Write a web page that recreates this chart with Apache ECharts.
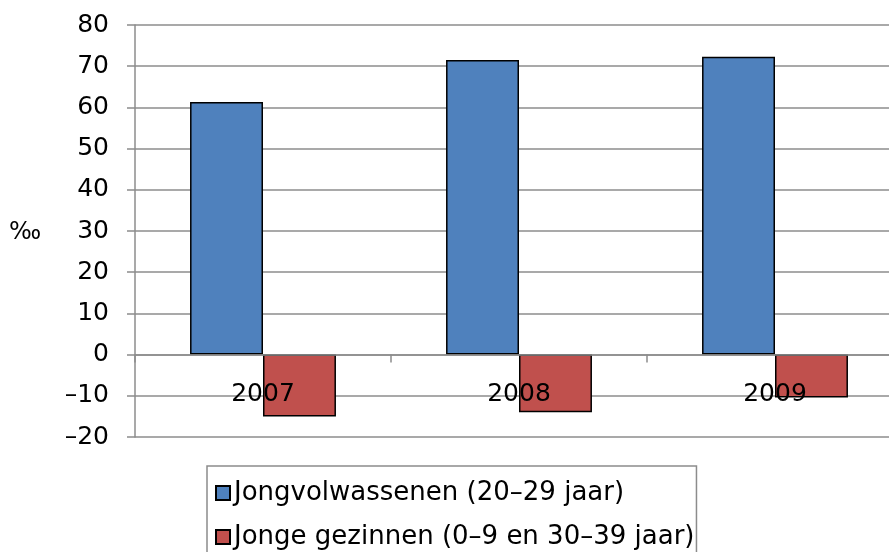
<!DOCTYPE html>
<html>
<head>
<meta charset="utf-8">
<script src="https://cdn.jsdelivr.net/npm/echarts@6/dist/echarts.min.js"></script>
<style>
  html, body { margin: 0; padding: 0; background: #fff; }
  #chart { width: 889px; height: 552px; }
</style>
</head>
<body>
<div id="chart"></div>
<script>
// data
var years = ["2007", "2008", "2009"];
var jongVolw = [61.3, 71.5, 72.3];
var jongeGez = [-15.0, -14.0, -10.4];
var seriesNames = ["Jongvolwassenen (20–29 jaar)", "Jonge gezinnen (0–9 en 30–39 jaar)"];

var chart = echarts.init(document.getElementById("chart"));
var font = "DejaVu Sans";
var gridGray = "#8c8c8c";

chart.setOption({
  backgroundColor: "#fff",
  animation: false,
  textStyle: { fontFamily: font },
  graphic: [
    {
      type: "text",
      left: 9,
      top: 221,
      style: { text: "‰", font: "24px " + font, fill: "#000" }
    }
  ],
  legend: {
    orient: "vertical",
    left: 207,
    top: 466,
    height: 200,
    padding: [14, 2, 13, 8],
    itemGap: 18,
    itemWidth: 14,
    itemHeight: 14,
    icon: "rect",
    borderColor: "#8c8c8c",
    borderWidth: 1.5,
    textStyle: { fontSize: 26, color: "#000", fontFamily: font, padding: [0, 0, 0, -1] },
    data: seriesNames
  },
  grid: {
    left: 135,
    top: 25,
    width: 768,
    height: 412,
    outerBoundsMode: "none"
  },
  xAxis: {
    type: "category",
    data: years,
    axisLine: { onZero: true, lineStyle: { color: gridGray, width: 1.5 } },
    axisTick: { show: true, alignWithLabel: false, length: 8, lineStyle: { color: gridGray, width: 1.5 } },
    axisLabel: { fontSize: 25, color: "#000", margin: -55, fontFamily: font },
    z: 5
  },
  yAxis: {
    type: "value",
    min: -20,
    max: 80,
    interval: 10,
    axisLine: { show: true, lineStyle: { color: gridGray, width: 1.5 } },
    axisTick: { show: true, length: 8, lineStyle: { color: gridGray, width: 1.5 } },
    splitLine: { show: true, lineStyle: { color: gridGray, width: 1.5 } },
    axisLabel: {
      fontSize: 25,
      color: "#000",
      margin: 26,
      fontFamily: font,
      formatter: function (v) { return String(v).replace("-", "–"); }
    }
  },
  series: [
    {
      name: seriesNames[0],
      type: "bar",
      data: jongVolw,
      barGap: "0%",
      barCategoryGap: "43%",
      itemStyle: { color: "#4f81bd", borderColor: "#000", borderWidth: 1.5 }
    },
    {
      name: seriesNames[1],
      type: "bar",
      data: jongeGez,
      itemStyle: { color: "#c0504d", borderColor: "#000", borderWidth: 1.5 }
    }
  ]
});
</script>
</body>
</html>
